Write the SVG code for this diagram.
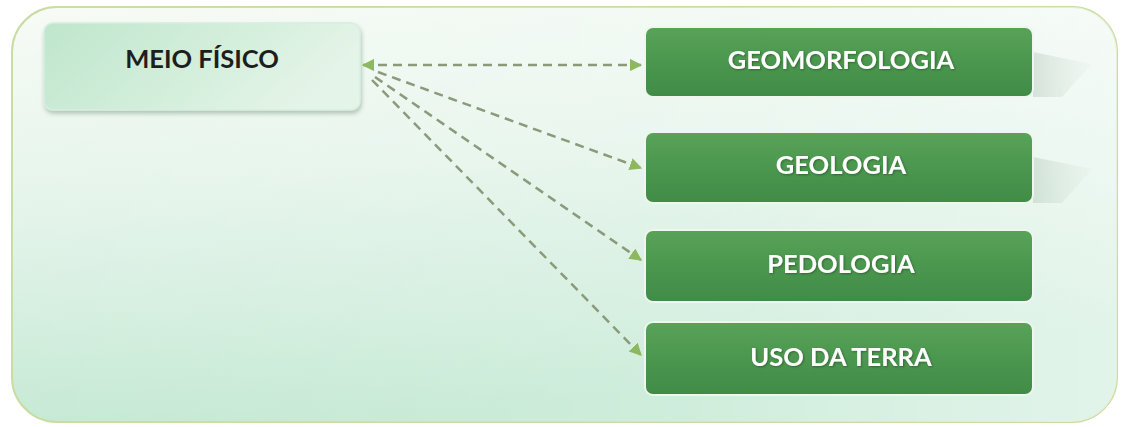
<svg xmlns="http://www.w3.org/2000/svg" width="1121" height="427" viewBox="0 0 1121 427">
<defs>
<linearGradient id="bg" x1="0" y1="0" x2="0.35" y2="1">
<stop offset="0" stop-color="#f7fbf6"/>
<stop offset="0.45" stop-color="#e4f4ea"/>
<stop offset="1" stop-color="#bfe7d0"/>
</linearGradient>
<linearGradient id="bgr" x1="0" y1="0" x2="1" y2="0">
<stop offset="0" stop-color="#ffffff" stop-opacity="0"/>
<stop offset="0.6" stop-color="#ffffff" stop-opacity="0.25"/>
<stop offset="1" stop-color="#ffffff" stop-opacity="0.55"/>
</linearGradient>
<linearGradient id="src" x1="0" y1="0" x2="1" y2="0.3">
<stop offset="0" stop-color="#bfe6cd"/>
<stop offset="0.6" stop-color="#d4efdc"/>
<stop offset="1" stop-color="#e4f4e8"/>
</linearGradient>
<linearGradient id="grn" x1="0" y1="0" x2="0" y2="1">
<stop offset="0" stop-color="#58a358"/>
<stop offset="1" stop-color="#408b46"/>
</linearGradient>
<linearGradient id="shd" x1="0" y1="0" x2="1" y2="0">
<stop offset="0" stop-color="#b4c8b8" stop-opacity="0.45"/>
<stop offset="1" stop-color="#d0ddd2" stop-opacity="0.1"/>
</linearGradient>
<marker id="arr" viewBox="0 0 10 10" refX="9" refY="5" markerWidth="5" markerHeight="5" orient="auto-start-reverse">
<path d="M0,0 L10,5 L0,10 z" fill="#8db860"/>
</marker>
<filter id="ds" x="-5%" y="-10%" width="110%" height="130%">
<feDropShadow dx="1" dy="3" stdDeviation="2" flood-color="#6a8a70" flood-opacity="0.45"/>
</filter>
<filter id="ts" x="-5%" y="-20%" width="110%" height="140%">
<feDropShadow dx="1" dy="1" stdDeviation="0.8" flood-color="#1f4a22" flood-opacity="0.6"/>
</filter>
</defs>
<style>
.lbl{font-family:"Lato","Open Sans","Liberation Sans",sans-serif;font-weight:bold;font-size:25.5px;text-anchor:middle;dominant-baseline:central}
.w{fill:#ffffff}
.k{fill:#1e1e1e}
.box{fill:url(#grn);stroke:#eef6ee;stroke-width:2}
.conn{stroke:#8a9a7a;stroke-width:2.5;stroke-dasharray:9 6;fill:none}
</style>
<g id="container">
<rect x="12" y="7" width="1105" height="415" rx="45" fill="url(#bg)" stroke="#c9dca2" stroke-width="2"/>
<rect x="12" y="7" width="1105" height="415" rx="45" fill="url(#bgr)"/>
</g>
<g id="shadows">
<polygon points="1033,52 1092,64 1062,97 1033,97" fill="url(#shd)"/>
<polygon points="1033,157 1092,169 1062,203 1033,203" fill="url(#shd)"/>
</g>
<g id="node-meio">
<rect x="44" y="23" width="316" height="87" rx="9" fill="url(#src)" stroke="#d8eedf" stroke-width="1.5" filter="url(#ds)"/>
<text class="lbl k" x="202" y="58">MEIO FÍSICO</text>
</g>
<g id="node-geomorfologia">
<rect class="box" x="645" y="27" width="388" height="70" rx="8"/>
<text class="lbl w" x="841" y="59" filter="url(#ts)">GEOMORFOLOGIA</text>
</g>
<g id="node-geologia">
<rect class="box" x="645" y="132" width="388" height="71" rx="8"/>
<text class="lbl w" x="841" y="164" filter="url(#ts)">GEOLOGIA</text>
</g>
<g id="node-pedologia">
<rect class="box" x="645" y="230" width="388" height="72" rx="8"/>
<text class="lbl w" x="841" y="263" filter="url(#ts)">PEDOLOGIA</text>
</g>
<g id="node-uso">
<rect class="box" x="645" y="322" width="388" height="73" rx="8"/>
<text class="lbl w" x="841" y="356" filter="url(#ts)">USO DA TERRA</text>
</g>
<g id="connectors">
<line class="conn" x1="363" y1="65" x2="641" y2="65" marker-start="url(#arr)" marker-end="url(#arr)"/>
<line class="conn" x1="378" y1="72" x2="641" y2="168" marker-end="url(#arr)"/>
<line class="conn" x1="375" y1="77" x2="641" y2="260" marker-end="url(#arr)"/>
<line class="conn" x1="372" y1="80" x2="641" y2="355" marker-end="url(#arr)"/>
</g>
</svg>
